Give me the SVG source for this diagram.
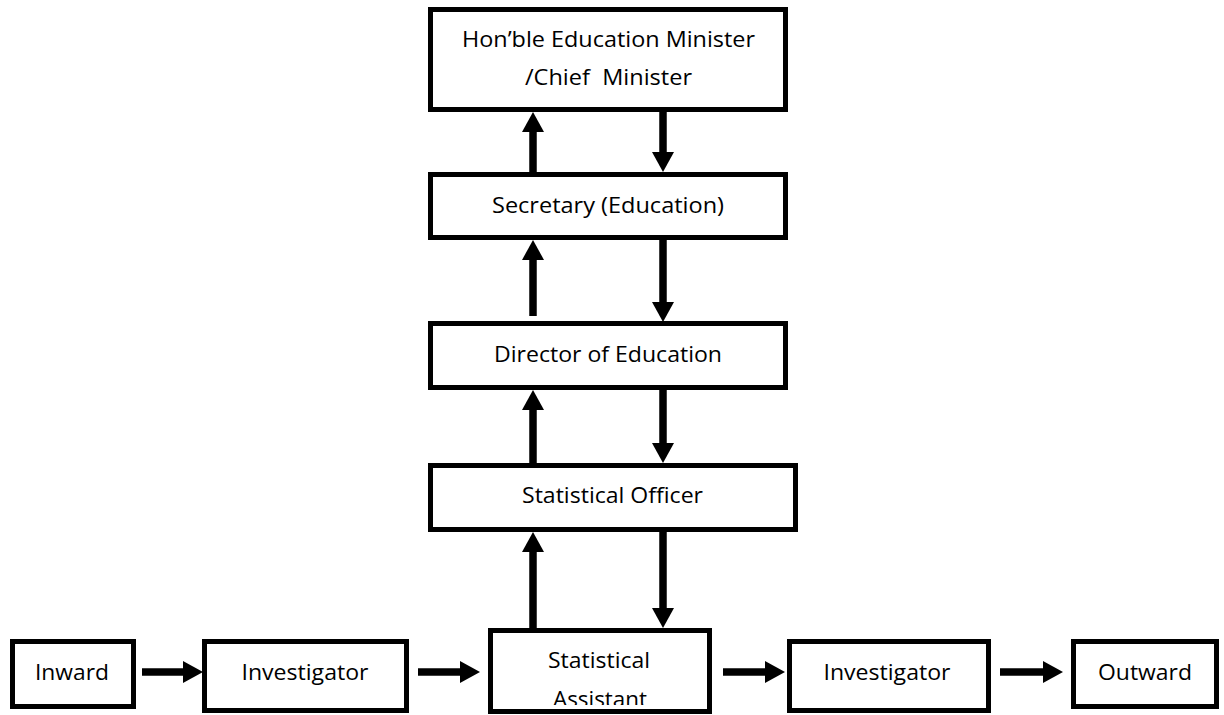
<svg xmlns="http://www.w3.org/2000/svg" width="1224" height="715" viewBox="0 0 1224 715">
<style>
.box{fill:#fff;stroke:#000;stroke-width:5}
.lbl{font-family:"Open Sans","Noto Sans","Liberation Sans",sans-serif;font-size:21.5px;fill:#000;text-anchor:middle}
.arr{stroke:#000;stroke-width:7.5;fill:none;marker-end:url(#head)}
</style>
<defs>
<marker id="head" viewBox="0 0 20 22" markerUnits="userSpaceOnUse" markerWidth="20" markerHeight="22" refX="1" refY="11" orient="auto">
<path d="M0,0 L20,11 L0,22 Z" fill="#000"/>
</marker>
<clipPath id="saclip"><rect x="490" y="630" width="220" height="75"/></clipPath>
</defs>
<rect width="1224" height="715" fill="#fff"/>
<g id="connectors">
<line class="arr" x1="533" y1="172" x2="533" y2="131"/>
<line class="arr" x1="663" y1="112" x2="663" y2="153"/>
<line class="arr" x1="533" y1="316" x2="533" y2="259"/>
<line class="arr" x1="663" y1="240" x2="663" y2="303"/>
<line class="arr" x1="533" y1="463" x2="533" y2="409"/>
<line class="arr" x1="663" y1="390" x2="663" y2="444"/>
<line class="arr" x1="533" y1="628" x2="533" y2="551"/>
<line class="arr" x1="663" y1="532" x2="663" y2="609"/>
<line class="arr" x1="142" y1="672" x2="184" y2="672"/>
<line class="arr" x1="418" y1="672" x2="461" y2="672"/>
<line class="arr" x1="723" y1="672" x2="766" y2="672"/>
<line class="arr" x1="1000" y1="672" x2="1044" y2="672"/>
</g>
<g id="minister">
<rect class="box" x="430.5" y="9.5" width="355" height="100"/>
<text class="lbl" x="608.5" y="47" textLength="293" lengthAdjust="spacingAndGlyphs">Hon’ble Education Minister</text>
<text class="lbl" x="608.5" y="85" textLength="167" lengthAdjust="spacingAndGlyphs" xml:space="preserve">/Chief  Minister</text>
</g>
<g id="secretary">
<rect class="box" x="430.5" y="174.5" width="355" height="63"/>
<text class="lbl" x="608" y="213" textLength="232" lengthAdjust="spacingAndGlyphs">Secretary (Education)</text>
</g>
<g id="director">
<rect class="box" x="430.5" y="323.5" width="355" height="64"/>
<text class="lbl" x="608" y="362" textLength="228" lengthAdjust="spacingAndGlyphs">Director of Education</text>
</g>
<g id="stat-officer">
<rect class="box" x="430.5" y="465.5" width="365" height="64"/>
<text class="lbl" x="612.5" y="503" textLength="181" lengthAdjust="spacingAndGlyphs">Statistical Officer</text>
</g>
<g id="stat-assistant">
<rect class="box" x="490.5" y="630.5" width="219" height="81"/>
<text class="lbl" x="599" y="668" textLength="102" lengthAdjust="spacingAndGlyphs">Statistical</text>
<text class="lbl" x="600" y="707" textLength="94" lengthAdjust="spacingAndGlyphs" clip-path="url(#saclip)">Assistant</text>
</g>
<g id="inward">
<rect class="box" x="12.5" y="641.5" width="121" height="65"/>
<text class="lbl" x="72" y="680" textLength="74" lengthAdjust="spacingAndGlyphs">Inward</text>
</g>
<g id="investigator-1">
<rect class="box" x="204.5" y="641.5" width="202" height="69"/>
<text class="lbl" x="305" y="680" textLength="127" lengthAdjust="spacingAndGlyphs">Investigator</text>
</g>
<g id="investigator-2">
<rect class="box" x="789.5" y="641.5" width="199" height="69"/>
<text class="lbl" x="887" y="680" textLength="127" lengthAdjust="spacingAndGlyphs">Investigator</text>
</g>
<g id="outward">
<rect class="box" x="1073.5" y="641.5" width="143" height="65"/>
<text class="lbl" x="1145" y="680" textLength="94" lengthAdjust="spacingAndGlyphs">Outward</text>
</g>
</svg>
